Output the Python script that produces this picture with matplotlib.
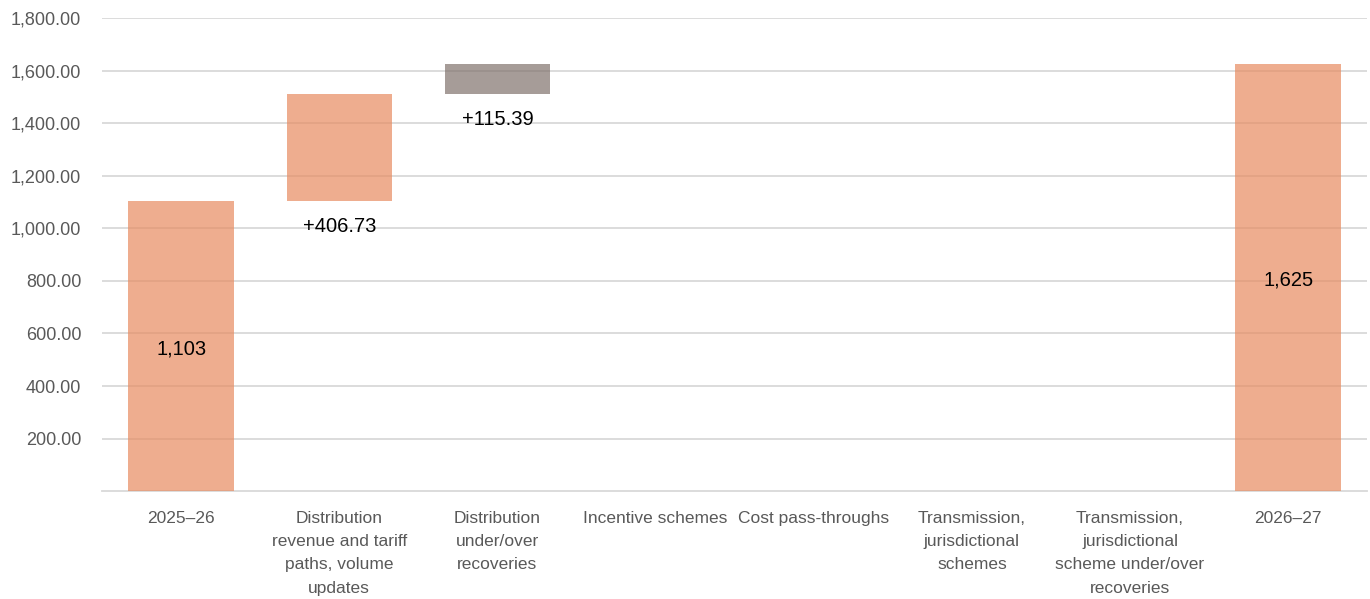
import numpy as np
import matplotlib.pyplot as plt
from matplotlib.ticker import FuncFormatter

plt.rcParams['font.family'] = ['Liberation Sans', 'DejaVu Sans']

categories = ['2025\u201326',
              'Distribution\nrevenue and tariff\npaths, volume\nupdates',
              'Distribution\nunder/over\nrecoveries',
              'Incentive schemes',
              'Cost pass-throughs',
              'Transmission,\njurisdictional\nschemes',
              'Transmission,\njurisdictional\nscheme under/over\nrecoveries',
              '2026\u201327']
start_value = 1103
deltas = [406.73, 115.39, 0, 0, 0, 0]
delta_colors = ['#E78B60', '#80726C', '#E78B60', '#E78B60', '#E78B60', '#E78B60']

end_value = start_value + sum(deltas)

fig = plt.figure(figsize=(13.7, 5.99), dpi=100)
ax = fig.add_axes([0.0745, 0.180, 0.9235, 0.790])

x = np.arange(len(categories))
w = 0.667
alpha = 0.7

# totals
ax.bar(x[0], start_value, w, color='#E78B60', alpha=alpha, zorder=3)
ax.bar(x[-1], end_value, w, color='#E78B60', alpha=alpha, zorder=3)
ax.text(x[0], start_value / 2 - 10, '{:,.0f}'.format(start_value), ha='center', va='center', fontsize=14.5, zorder=4)
ax.text(x[-1], end_value / 2 - 10, '{:,.0f}'.format(end_value), ha='center', va='center', fontsize=14.5, zorder=4)

# steps
bottom = start_value
for i, d in enumerate(deltas):
    if d != 0:
        ax.bar(x[i + 1], d, w, bottom=bottom, color=delta_colors[i], alpha=alpha, zorder=3)
        ax.text(x[i + 1], bottom - 95, '+{:.2f}'.format(d), ha='center', va='center', fontsize=14.5, zorder=4)
    bottom += d

ax.set_xlim(-0.5, len(categories) - 0.5)
ax.set_ylim(0, 1800)
ax.set_yticks(np.arange(200, 1801, 200))
ax.yaxis.set_major_formatter(FuncFormatter(lambda v, p: '{:,.2f}'.format(v)))
ax.set_xticks(x)
ax.set_xticklabels(categories, va='top', ha='center', linespacing=1.7)
ax.tick_params(axis='both', length=0, colors='#595959')
ax.tick_params(axis='x', pad=14, labelsize=12.5)
ax.tick_params(axis='y', pad=15, labelsize=13)
ax.grid(axis='y', color='#D9D9D9', linewidth=1.3, zorder=0)
for s in ['top', 'right', 'left']:
    ax.spines[s].set_visible(False)
ax.spines['bottom'].set_color('#D9D9D9')
ax.spines['bottom'].set_linewidth(1.3)

plt.savefig('out.png', dpi=100)
